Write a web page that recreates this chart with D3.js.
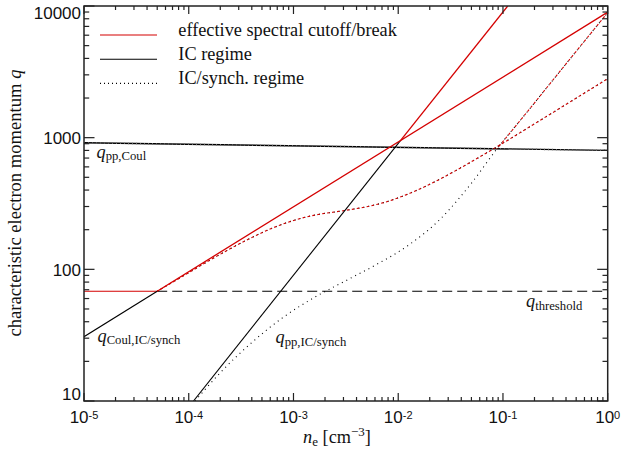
<!DOCTYPE html>
<html><head><meta charset="utf-8">
<script src="https://cdn.jsdelivr.net/npm/d3@7"></script>
<style>body{margin:0;background:#fff}svg{display:block}</style>
</head><body>
<svg id="c" width="621" height="452"></svg>
<script>
// ---------- data ----------
const xDomain = [1e-5, 1];
const yDomain = [10, 10000];
const xTickExps = [-5, -4, -3, -2, -1, 0];
const yTickLabels = ["10", "100", "1000", "10000"];
const qThreshold = 68.2;
// q_pp,Coul (nearly flat)
const nPPCoul = [1e-5, 1];
const qPPCoul = [914, 801];
// q_Coul,IC (IC regime): black up to index 1, red afterwards
const nCoulIC = [1e-5, 5.0e-5, 1];
const qCoulIC = [30.8, 68.2, 8980];
// q_pp,IC (IC regime): black up to index 1, red afterwards
const nPPIC = [1.11e-4, 1.05e-2, 0.111];
const qPPIC = [10, 951, 10000];
// q_Coul,IC/synch (IC/synch regime) – red dotted
const nCoulICS = [5.01e-5, 8.91e-5, 1.86e-4, 3.80e-4, 6.92e-4, 1.0e-3, 1.45e-3, 3.09e-3, 5.01e-3, 7.24e-3, 1.29e-2, 1.62e-2, 2.51e-2, 4.17e-2, 8.71e-2, 0.224, 0.468, 1];
const qCoulICS = [68.2, 89.3, 126, 171, 212, 235, 254, 280, 299, 321, 378, 409, 485, 605, 851, 1346, 1932, 2805];
// q_pp,IC/synch (IC/synch regime) – black dotted, red from index 10
const nPPICS = [1.15e-4, 2.00e-4, 3.98e-4, 7.94e-4, 1.585e-3, 3.16e-3, 6.31e-3, 1.26e-2, 2.51e-2, 5.01e-2, 8.75e-2, 0.1585, 0.316, 1];
const qPPICS = [10, 16.4, 27.7, 43.1, 61.2, 82.0, 109.6, 153, 240, 452, 822, 1462, 2884, 8913];
const ppICSRedFrom = 10;
const legendLabels = ["effective spectral cutoff/break", "IC regime", "IC/synch. regime"];

// ---------- layout ----------
const L = 84, R = 607.7, T = 6, B = 401;
const RED = "#d40000";
const SERIF = "'Liberation Serif','Times New Roman',serif";
const SANS = "'Liberation Sans',Arial,Helvetica,sans-serif";

const svg = d3.select("#c");
const x = d3.scaleLog().domain(xDomain).range([L, R]);
const y = d3.scaleLog().domain(yDomain).range([B, T]);

svg.append("defs").append("clipPath").attr("id", "clip")
  .append("rect").attr("x", L).attr("y", T).attr("width", R - L).attr("height", B - T);

const g = svg.append("g").attr("clip-path", "url(#clip)");
const straight = d3.line().x(d => x(d[0])).y(d => y(d[1]));
const smooth = d3.line().x(d => x(d[0])).y(d => y(d[1])).curve(d3.curveMonotoneX);
const pts = (ns, qs, i0 = 0, i1 = ns.length) => ns.slice(i0, i1).map((n, i) => [n, qs[i0 + i]]);

function path(data, gen, color, w, dash, offset) {
  const p = g.append("path").attr("d", gen(data)).attr("fill", "none")
    .attr("stroke", color).attr("stroke-width", w);
  if (dash) p.attr("stroke-dasharray", dash);
  if (offset) p.attr("stroke-dashoffset", offset);
  return p;
}

// threshold
path([[xDomain[0], qThreshold], [nCoulIC[1], qThreshold]], straight, RED, 1.1);
path([[nCoulIC[1], qThreshold], [xDomain[1], qThreshold]], straight, "#000", 1.1, "10,5");

// q_pp,Coul
path(pts(nPPCoul, qPPCoul), straight, "#000", 1.4);
path(pts(nPPCoul, qPPCoul), straight, "#666", 1.4, "1,3");

// IC/synch dotted curves
path(pts(nPPICS, qPPICS), smooth, "#000", 1.1, "1,4");
path(pts(nPPICS, qPPICS, ppICSRedFrom), smooth, RED, 1.1, "2.5,2.5", 1.75);
path(pts(nCoulICS, qCoulICS), smooth, "#000", 1.1, "1,4");
path(pts(nCoulICS, qCoulICS), smooth, RED, 1.1, "2.5,2.5", 1.75);

// IC solid lines
path(pts(nCoulIC, qCoulIC, 0, 2), straight, "#000", 1.1);
path(pts(nPPIC, qPPIC, 0, 2), straight, "#000", 1.1);
path(pts(nCoulIC, qCoulIC, 1), straight, RED, 1.3);
path(pts(nPPIC, qPPIC, 1), straight, RED, 1.3);

// ---------- frame + ticks ----------
const ax = svg.append("g").attr("stroke", "#222").attr("stroke-width", 1.2);
const isMajor = t => Math.abs(Math.log10(t) - Math.round(Math.log10(t))) < 1e-9;
x.ticks().forEach(t => {
  const px = x(t), len = isMajor(t) ? 8 : 4;
  ax.append("line").attr("x1", px).attr("x2", px).attr("y1", B).attr("y2", B - len);
  ax.append("line").attr("x1", px).attr("x2", px).attr("y1", T).attr("y2", T + len);
});
y.ticks().forEach(t => {
  const py = y(t), len = isMajor(t) ? 10.5 : 5.2;
  ax.append("line").attr("x1", L).attr("x2", L + len).attr("y1", py).attr("y2", py);
  ax.append("line").attr("x1", R).attr("x2", R - len).attr("y1", py).attr("y2", py);
});
svg.append("rect").attr("x", L).attr("y", T).attr("width", R - L).attr("height", B - T)
  .attr("fill", "none").attr("stroke", "#222").attr("stroke-width", 1.5);

// x tick labels
xTickExps.forEach(e => {
  const t = svg.append("text").attr("x", x(Math.pow(10, e))).attr("y", 423.3)
    .attr("text-anchor", "middle").attr("font-family", SANS).attr("font-size", 17).attr("fill", "#111");
  t.append("tspan").text("10");
  t.append("tspan").attr("font-size", 11).attr("dy", -4).text(String(e));
});
// y tick labels
yTickLabels.forEach((lab, i) => {
  const py = y(+lab);
  let base = py + 6.3;
  if (i === yTickLabels.length - 1) base = py + 12.8;
  if (i === 0) base = py - 1;
  svg.append("text").attr("x", 81).attr("y", base).attr("text-anchor", "end")
    .attr("font-family", SANS).attr("font-size", 17).attr("fill", "#111").text(lab);
});

// axis titles
const xt = svg.append("text").attr("x", 337).attr("y", 442.5).attr("text-anchor", "middle")
  .attr("font-family", SERIF).attr("font-size", 18.3).attr("fill", "#111");
xt.append("tspan").attr("font-style", "italic").text("n");
xt.append("tspan").attr("font-size", 13).attr("dy", 3).text("e");
xt.append("tspan").attr("dy", -3).text(" [cm");
xt.append("tspan").attr("font-size", 13).attr("dy", -7).text("\u22123");
xt.append("tspan").attr("dy", 7).text("]");

const yt = svg.append("text").attr("transform", "translate(21,203) rotate(-90)")
  .attr("text-anchor", "middle").attr("font-family", SERIF).attr("font-size", 18.6).attr("fill", "#111");
yt.append("tspan").text("characteristic electron momentum ");
yt.append("tspan").attr("font-style", "italic").text("q");

// curve labels
function qLabel(px, py, sub) {
  const t = svg.append("text").attr("x", px).attr("y", py)
    .attr("font-family", SERIF).attr("font-size", 18.3).attr("fill", "#111");
  t.append("tspan").attr("font-style", "italic").text("q");
  t.append("tspan").attr("font-size", 12.7).attr("dy", 2.5).text(sub);
}
qLabel(96.5, 157.5, "pp,Coul");
qLabel(97.5, 341.7, "Coul,IC/synch");
qLabel(275.5, 343, "pp,IC/synch");
qLabel(526, 307.3, "threshold");

// legend
const legStyles = [
  { color: RED, dash: null },
  { color: "#000", dash: null },
  { color: "#000", dash: "1,3" }
];
legendLabels.forEach((lab, i) => {
  const ly = 35 + i * 24.2;
  const l = svg.append("line").attr("x1", 100).attr("x2", 157).attr("y1", ly).attr("y2", ly)
    .attr("stroke", legStyles[i].color).attr("stroke-width", 1.1);
  if (legStyles[i].dash) l.attr("stroke-dasharray", legStyles[i].dash);
  svg.append("text").attr("x", 178.3).attr("y", ly + 0.5).attr("font-family", SERIF)
    .attr("font-size", 18.3).attr("fill", "#111").text(lab);
});
</script>
</body></html>
